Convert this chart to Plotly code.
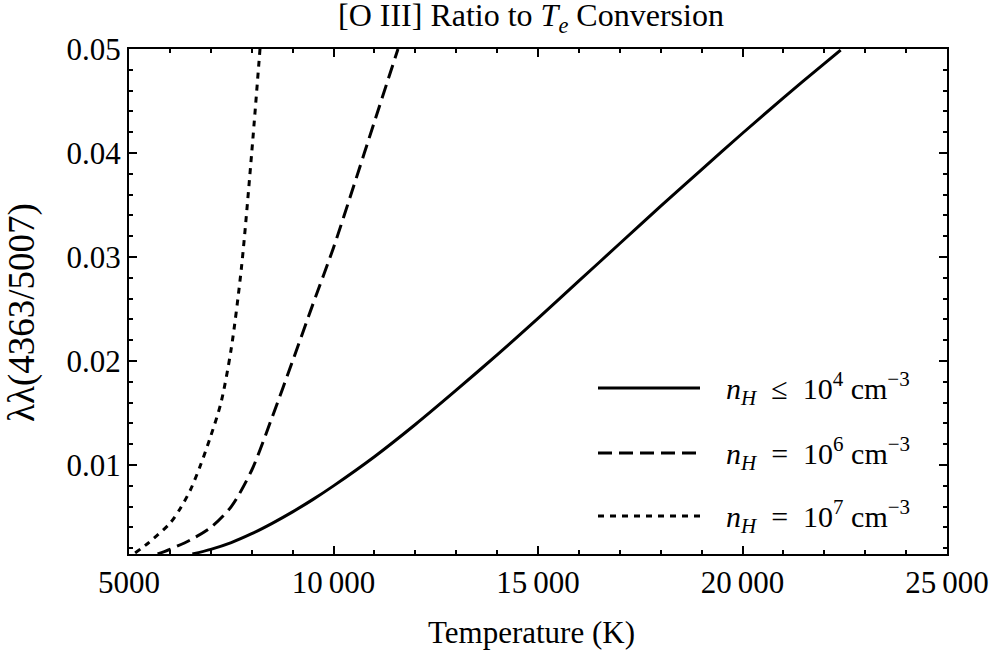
import plotly.graph_objects as go

# Temperature (K) and 4363/5007 line ratio for each density case
temp_low = [6550, 7000, 7500, 8000, 8500, 9000, 9500, 10000, 11000, 12000, 13000, 14000,
            15000, 16000, 17000, 18000, 19000, 20000, 21000, 22000, 22400]
ratio_low = [0.00145, 0.0019, 0.00255, 0.0034, 0.0044, 0.0055, 0.0067, 0.0080, 0.0108,
             0.0139, 0.0172, 0.0206, 0.0241, 0.0277, 0.0313, 0.0349, 0.0384, 0.0419,
             0.0453, 0.0486, 0.0499]

temp_1e6 = [5700, 6000, 6500, 7000, 7500, 8000, 8500, 9000, 9500, 10000, 10500, 11000,
            11577]
ratio_1e6 = [0.00145, 0.0019, 0.0028, 0.0040, 0.0060, 0.0095, 0.0146, 0.0200, 0.0255,
             0.0309, 0.0369, 0.0430, 0.0500]

temp_1e7 = [5150, 5500, 6000, 6250, 6500, 6750, 7000, 7250, 7500, 7750, 8000, 8203]
ratio_1e7 = [0.00155, 0.0026, 0.0044, 0.0058, 0.0076, 0.0100, 0.0128, 0.0160, 0.0212,
             0.0290, 0.0400, 0.0500]

x_tickvals = [5000, 10000, 15000, 20000, 25000]
x_ticktext = ["5000", "10\u2009000", "15\u2009000", "20\u2009000", "25\u2009000"]
y_tickvals = [0.01, 0.02, 0.03, 0.04, 0.05]
y_ticktext = ["0.01", "0.02", "0.03", "0.04", "0.05"]

legend_labels = [
    "<i>n</i><sub><i>H</i></sub>  \u2264  10<sup>4</sup> cm<sup>\u22123</sup>",
    "<i>n</i><sub><i>H</i></sub>  =  10<sup>6</sup> cm<sup>\u22123</sup>",
    "<i>n</i><sub><i>H</i></sub>  =  10<sup>7</sup> cm<sup>\u22123</sup>",
]
dashes = ["solid", "14px,7px", "6px,6px"]

FONT = "Liberation Serif"
FS = 31

fig = go.Figure()
for t, r, d in [(temp_low, ratio_low, dashes[0]),
                (temp_1e6, ratio_1e6, dashes[1]),
                (temp_1e7, ratio_1e7, dashes[2])]:
    fig.add_trace(go.Scatter(x=t, y=r, mode="lines",
                             line=dict(color="black", width=3, dash=d, shape="spline",
                                       smoothing=0.8),
                             showlegend=False, hoverinfo="skip"))

W, H = 991, 659
ml, mr, mt, mb = 129, 44, 49, 105
pw, ph = W - ml - mr, H - mt - mb


def px_x(x):
    return (x - ml) / pw


def px_y(y):
    return 1 - (y - mt) / ph


# Legend: line sample followed by its label
for yy, d, lab in zip([388, 453, 516], dashes, legend_labels):
    fig.add_shape(type="line", xref="paper", yref="paper",
                  x0=px_x(598), x1=px_x(700), y0=px_y(yy), y1=px_y(yy),
                  line=dict(color="black", width=3, dash=d))
    fig.add_annotation(xref="paper", yref="paper", x=px_x(724), y=px_y(yy),
                       xanchor="left", yanchor="middle", text=lab, showarrow=False,
                       font=dict(family=FONT, size=30, color="black"))

# Title and axis titles
fig.add_annotation(xref="paper", yref="paper", x=px_x(531), y=px_y(18), xanchor="center",
                   yanchor="middle",
                   text="[O III] Ratio to <i>T</i><sub><i>e</i></sub> Conversion",
                   showarrow=False, font=dict(family=FONT, size=32, color="black"))
fig.add_annotation(xref="paper", yref="paper", x=px_x(531), y=px_y(632), xanchor="center",
                   yanchor="middle", text="Temperature (K)", showarrow=False,
                   font=dict(family=FONT, size=FS, color="black"))
fig.add_annotation(xref="paper", yref="paper", x=px_x(22), y=px_y(313), xanchor="center",
                   yanchor="middle", text="\u03bb\u03bb(4363/5007)", textangle=-90,
                   showarrow=False, font=dict(family=FONT, size=37, color="black"))

axis_common = dict(showline=True, linecolor="black", linewidth=2, mirror="allticks",
                   ticks="inside", ticklen=8, tickwidth=2, tickcolor="black",
                   showgrid=False, zeroline=False, automargin=False,
                   tickfont=dict(family=FONT, size=FS, color="black"))

fig.update_xaxes(range=[5000, 25000], tickvals=x_tickvals, ticktext=x_ticktext,
                 minor=dict(ticks="inside", ticklen=4, tickwidth=2, tickcolor="black",
                            dtick=1000, tick0=5000),
                 **axis_common)
fig.update_yaxes(range=[0.00145, 0.05], tickvals=y_tickvals, ticktext=y_ticktext,
                 minor=dict(ticks="inside", ticklen=4, tickwidth=2, tickcolor="black",
                            dtick=0.002, tick0=0),
                 **axis_common)

fig.update_layout(
    width=W, height=H,
    margin=dict(l=ml, r=mr, t=mt, b=mb, autoexpand=False),
    paper_bgcolor="white", plot_bgcolor="white",
    font=dict(family=FONT, size=FS, color="black"),
)

fig.write_html("out.html")
